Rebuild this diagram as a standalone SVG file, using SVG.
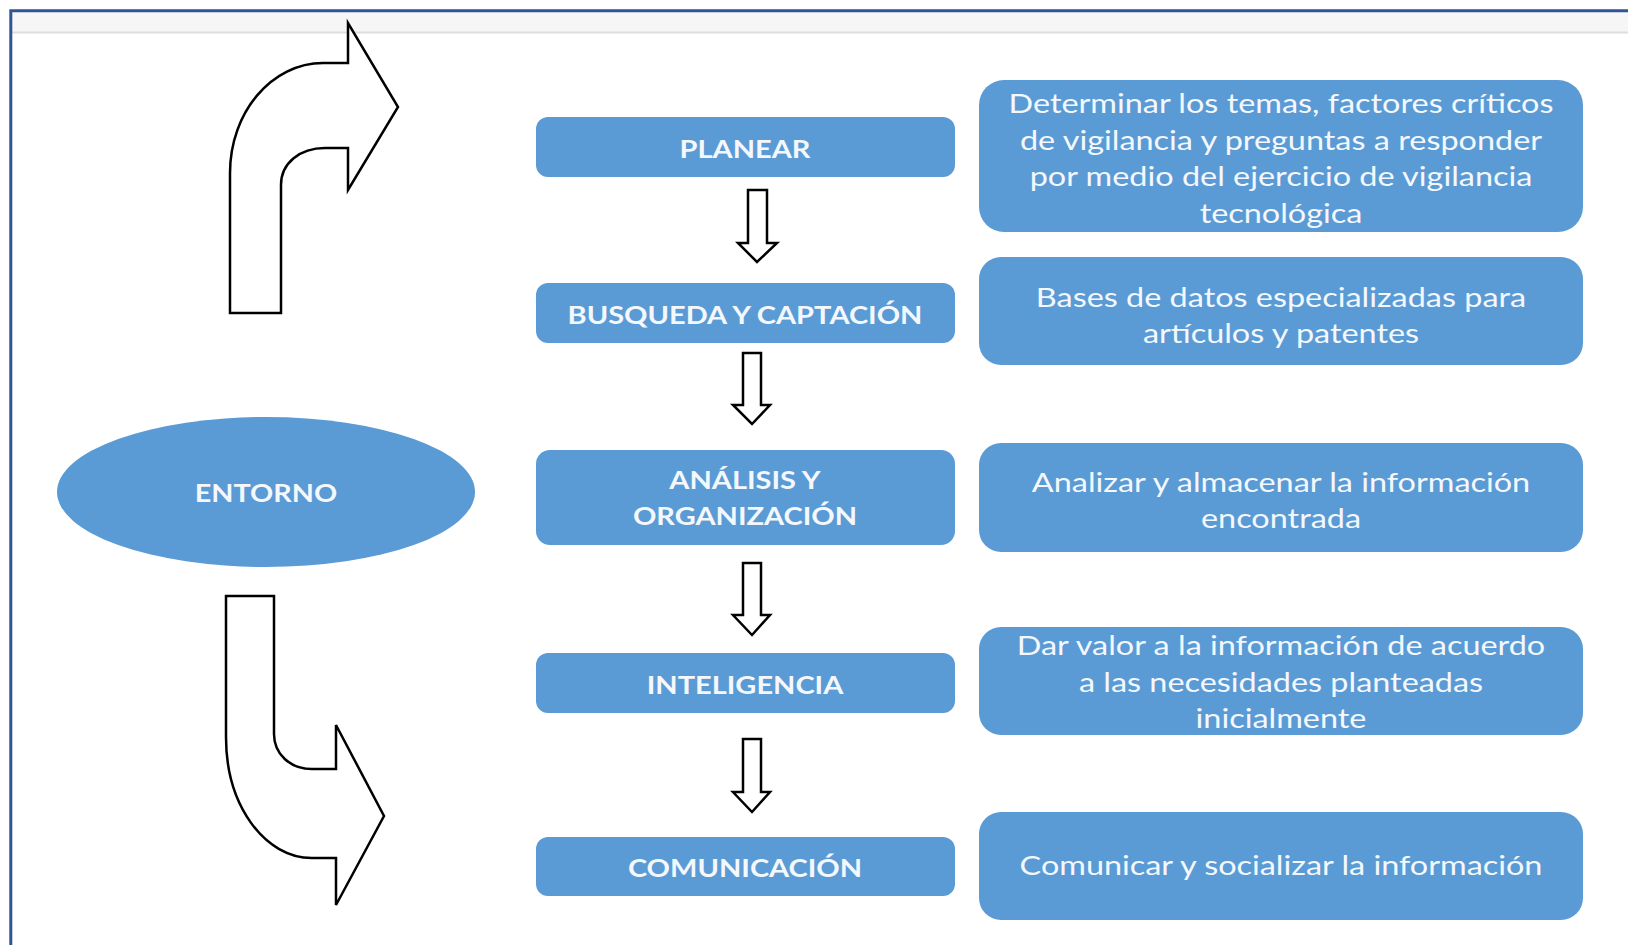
<svg xmlns="http://www.w3.org/2000/svg" width="1628" height="945" viewBox="0 0 1628 945">
<style>
.box{fill:#5b9bd5;}
.t{font-family:Lato,"Liberation Sans",sans-serif;fill:#f4f8fc;text-anchor:middle;dominant-baseline:central;}
.tm{font-size:25px;font-weight:bold;}
.tr{font-size:27px;}
.arr{fill:#fff;stroke:#000;stroke-width:2.5;stroke-linejoin:miter;}
</style>
<rect x="0" y="0" width="1628" height="945" fill="#fff"/>
<rect x="12" y="12" width="1616" height="20" fill="#f6f6f6"/>
<line x1="12" y1="32.5" x2="1628" y2="32.5" stroke="#dedede" stroke-width="2"/>
<path d="M10.8,945 V10.8 H1628" fill="none" stroke="#2f5597" stroke-width="3"/>

<g id="connectors">
<path class="arr" d="M230,313 L230,173 C230,112 272,63 323,63 L348,63 L348,23 L398,107 L348,190 L348,148 L325,148 C300,148 281,163 281,185 L281,313 Z"/>
<path class="arr" d="M226,596 L274,596 L274,734 C274,754 290,769 312,769 L336,769 L336,725 L384,816 L336,905 L336,858 L312,858 C265,858 226,806 226,737 Z"/>
<path class="arr" d="M748,190 H767 V243 H777 L757,262 L738,243 H748 Z"/>
<path class="arr" d="M743,353 H761 V405 H770 L752,424 L733,405 H743 Z"/>
<path class="arr" d="M743,563 H761 V615 H770 L752,635 L733,615 H743 Z"/>
<path class="arr" d="M743,739 H761 V792 H770 L752,812 L733,792 H743 Z"/>
</g>

<g id="entorno">
<ellipse class="box" cx="266" cy="492" rx="209" ry="75"/>
<g transform="translate(266 0) scale(1.15 1)"><text class="t tm" x="0" y="492">ENTORNO</text></g>
</g>

<g id="planear">
<rect class="box" x="536" y="117" width="419" height="60" rx="12"/>
<g transform="translate(745 0) scale(1.16 1)"><text class="t tm" x="0" y="148">PLANEAR</text></g>
</g>
<g id="busqueda">
<rect class="box" x="536" y="283" width="419" height="60" rx="12"/>
<g transform="translate(745 0) scale(1.16 1)"><text class="t tm" x="0" y="314">BUSQUEDA Y CAPTACIÓN</text></g>
</g>
<g id="analisis">
<rect class="box" x="536" y="450" width="419" height="95" rx="14"/>
<g transform="translate(745 0) scale(1.16 1)">
<text class="t tm" x="0" y="479">ANÁLISIS Y</text>
<text class="t tm" x="0" y="515">ORGANIZACIÓN</text>
</g>
</g>
<g id="inteligencia">
<rect class="box" x="536" y="653" width="419" height="60" rx="12"/>
<g transform="translate(745 0) scale(1.16 1)"><text class="t tm" x="0" y="684">INTELIGENCIA</text></g>
</g>
<g id="comunicacion">
<rect class="box" x="536" y="837" width="419" height="59" rx="12"/>
<g transform="translate(745 0) scale(1.16 1)"><text class="t tm" x="0" y="867">COMUNICACIÓN</text></g>
</g>

<g id="desc-planear">
<rect class="box" x="979" y="80" width="604" height="152" rx="25"/>
<g transform="translate(1281 0) scale(1.2 1)">
<text class="t tr" x="0" y="103">Determinar los temas, factores críticos</text>
<text class="t tr" x="0" y="140">de vigilancia y preguntas a responder</text>
<text class="t tr" x="0" y="176">por medio del ejercicio de vigilancia</text>
<text class="t tr" x="0" y="213">tecnológica</text>
</g>
</g>
<g id="desc-busqueda">
<rect class="box" x="979" y="257" width="604" height="108" rx="22"/>
<g transform="translate(1281 0) scale(1.2 1)">
<text class="t tr" x="0" y="297">Bases de datos especializadas para</text>
<text class="t tr" x="0" y="333">artículos y patentes</text>
</g>
</g>
<g id="desc-analisis">
<rect class="box" x="979" y="443" width="604" height="109" rx="22"/>
<g transform="translate(1281 0) scale(1.2 1)">
<text class="t tr" x="0" y="482">Analizar y almacenar la información</text>
<text class="t tr" x="0" y="518">encontrada</text>
</g>
</g>
<g id="desc-inteligencia">
<rect class="box" x="979" y="627" width="604" height="108" rx="22"/>
<g transform="translate(1281 0) scale(1.2 1)">
<text class="t tr" x="0" y="645">Dar valor a la información de acuerdo</text>
<text class="t tr" x="0" y="682">a las necesidades planteadas</text>
<text class="t tr" x="0" y="718">inicialmente</text>
</g>
</g>
<g id="desc-comunicacion">
<rect class="box" x="979" y="812" width="604" height="108" rx="22"/>
<g transform="translate(1281 0) scale(1.2 1)">
<text class="t tr" x="0" y="865">Comunicar y socializar la información</text>
</g>
</g>
</svg>
